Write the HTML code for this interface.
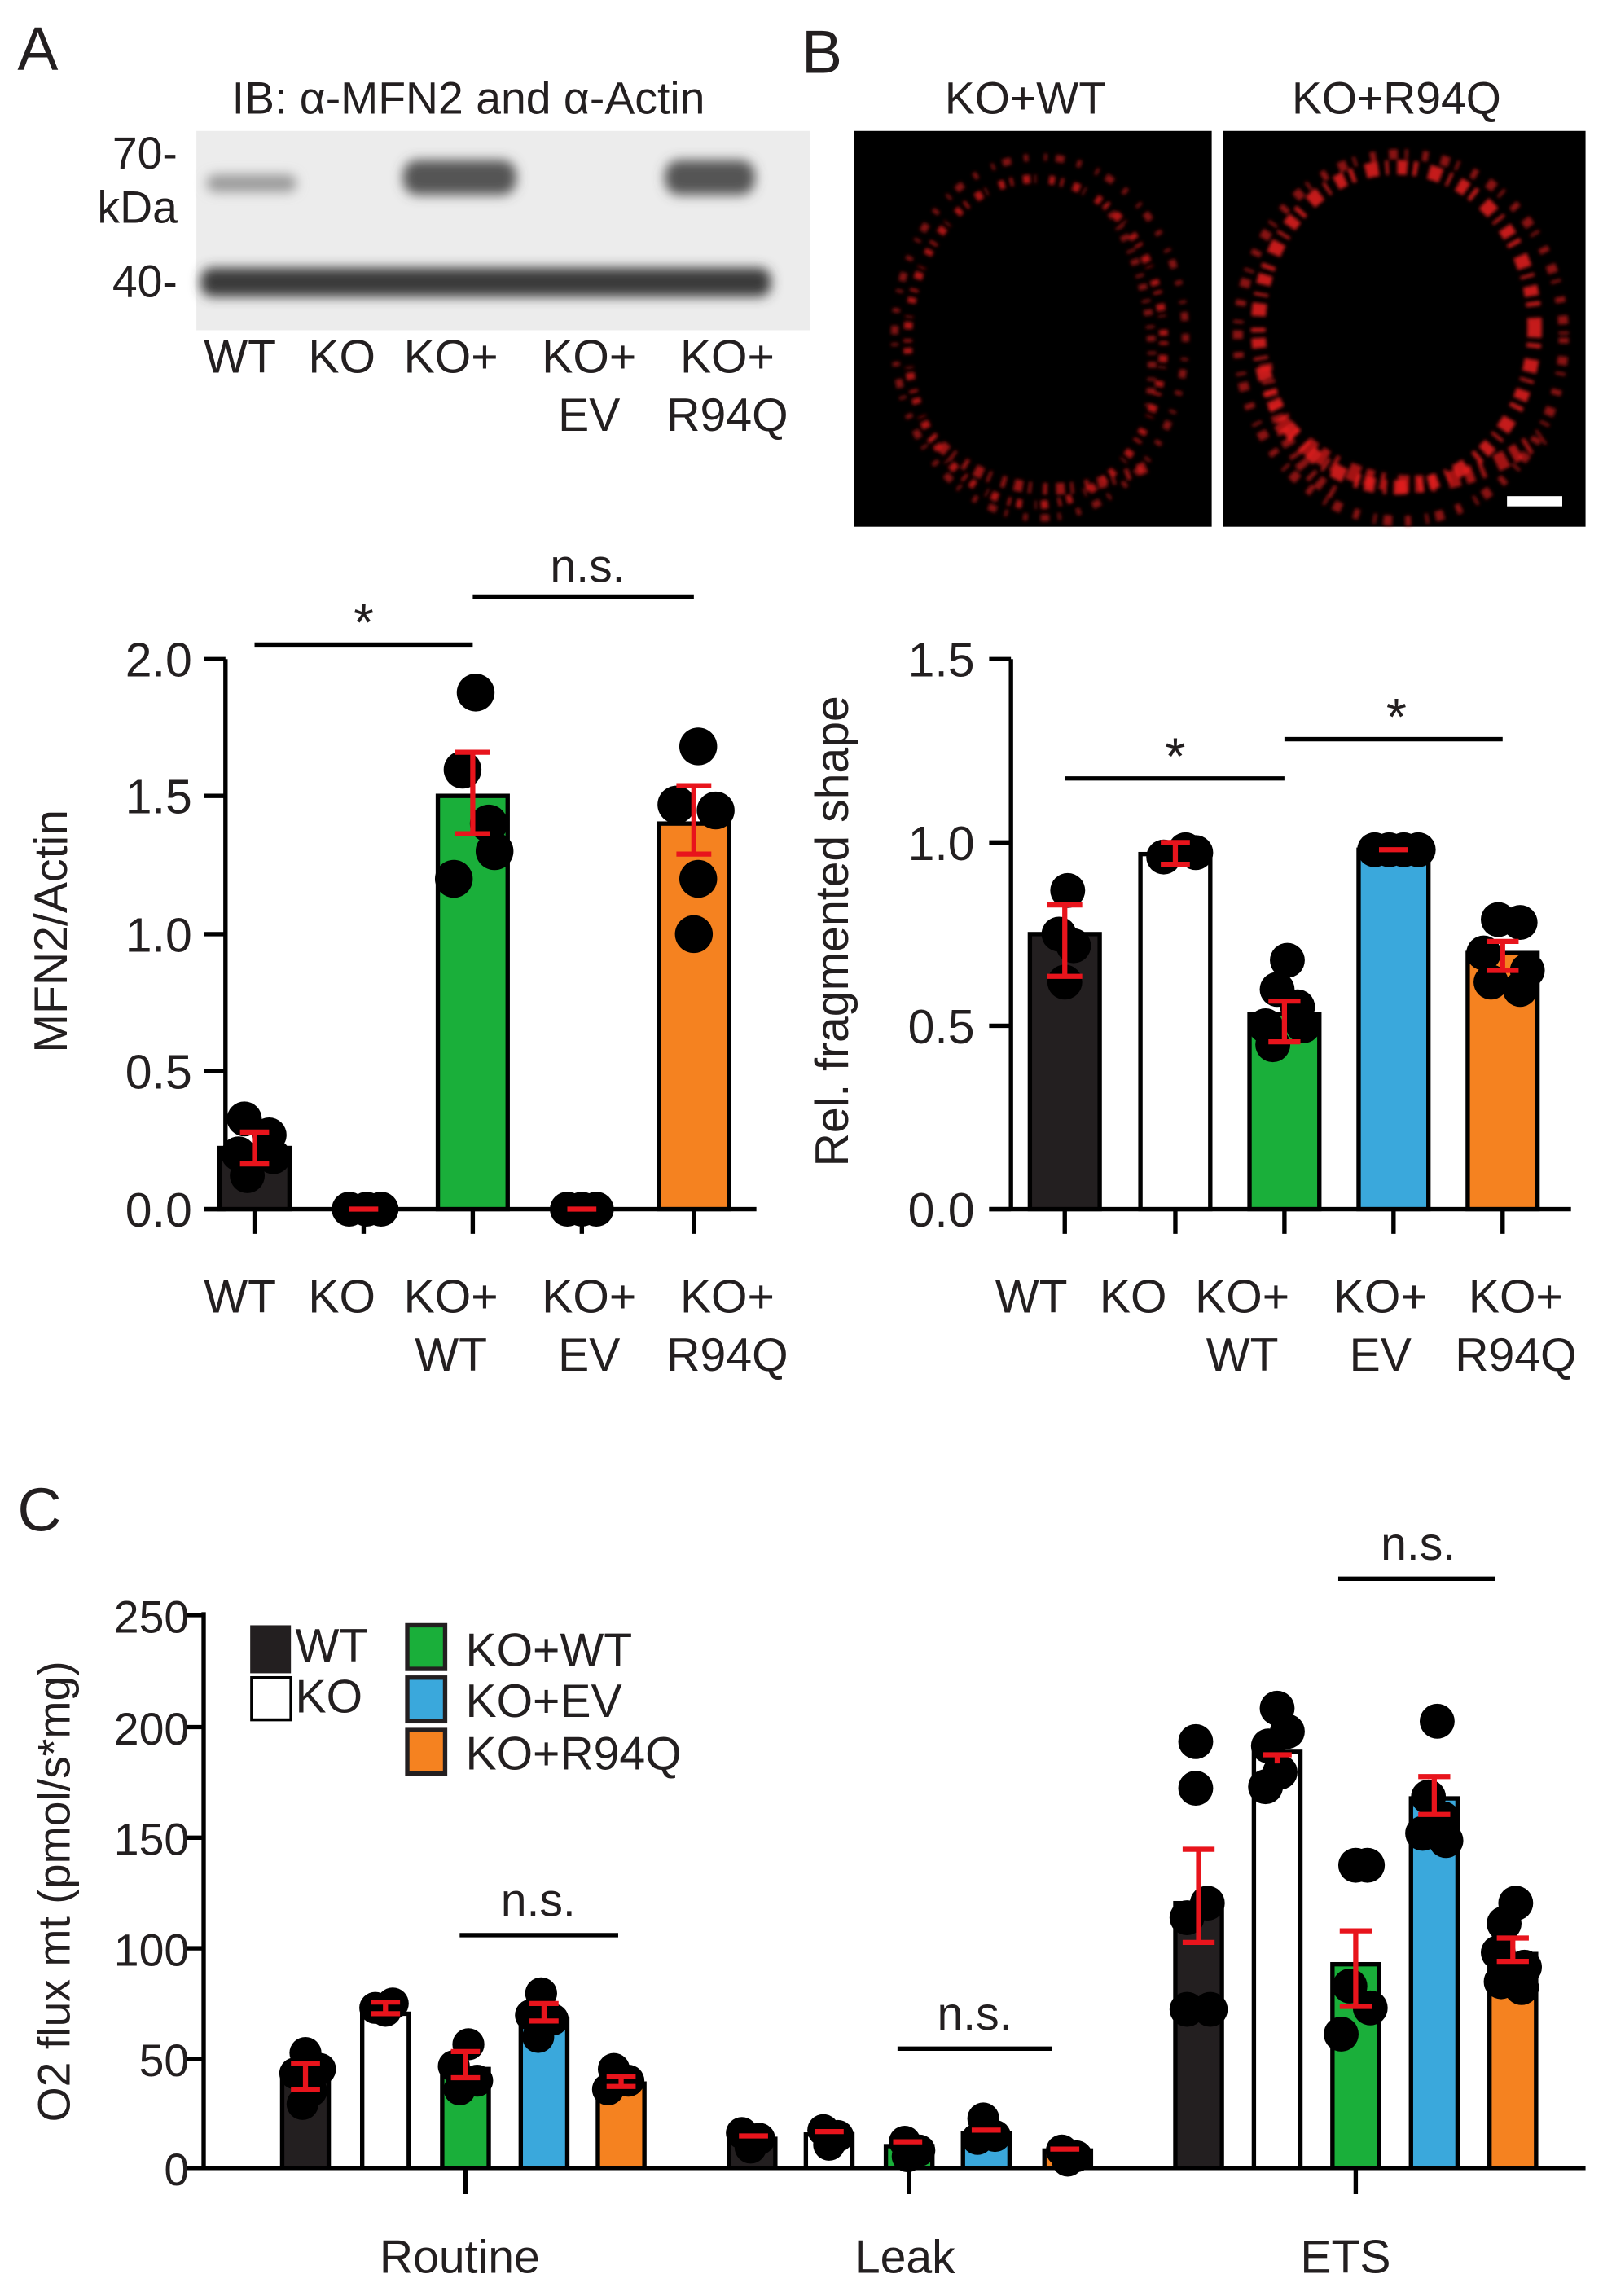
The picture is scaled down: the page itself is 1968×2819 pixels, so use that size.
<!DOCTYPE html>
<html><head><meta charset="utf-8"><style>
html,body{margin:0;padding:0;background:#fff}
svg{display:block}
text{font-family:"Liberation Sans",Arial,sans-serif;fill:#231f20}
</style></head><body>
<svg width="1968" height="2819" viewBox="0 0 1102 1578" preserveAspectRatio="none" xmlns="http://www.w3.org/2000/svg">
<defs>
<filter id="bl"><feGaussianBlur stdDeviation="4"/></filter>
<filter id="bl2"><feGaussianBlur stdDeviation="1.2"/></filter>
</defs>
<text x="12" y="48" font-size="42">A</text>
<text x="551" y="50" font-size="42">B</text>
<text x="12" y="1052" font-size="42">C</text>

<text x="322" y="78" font-size="31" text-anchor="middle">IB: α-MFN2 and α-Actin</text>
<rect x="135" y="90" width="422" height="137" fill="#ececec"/>
<g filter="url(#bl)">
<rect x="142" y="120" width="62" height="12" rx="6" fill="#9a9a9a"/>
<rect x="277" y="110" width="78" height="24" rx="10" fill="#555"/>
<rect x="457" y="110" width="62" height="24" rx="10" fill="#555"/>
<rect x="138" y="184" width="392" height="20" rx="8" fill="#3a3a3a"/>
</g>
<text x="122" y="116" font-size="31" text-anchor="end">70-</text>
<text x="122" y="153" font-size="31" text-anchor="end">kDa</text>
<text x="122" y="204" font-size="31" text-anchor="end">40-</text>
<g font-size="32" text-anchor="middle">
<text x="165" y="256">WT</text><text x="235" y="256">KO</text><text x="310" y="256">KO+</text><text x="405" y="256">KO+</text><text x="500" y="256">KO+</text>
<text x="405" y="296">EV</text><text x="500" y="296">R94Q</text>
</g>

<text x="705" y="78" font-size="31" text-anchor="middle">KO+WT</text>
<text x="960" y="78" font-size="31" text-anchor="middle">KO+R94Q</text>
<rect x="587" y="90" width="246" height="272" fill="#000"/>
<rect x="841" y="90" width="249" height="272" fill="#000"/>
<g fill="none" stroke="#d81c1c" filter="url(#bl2)">
<ellipse cx="712" cy="235" rx="88" ry="112" stroke-width="6" stroke-dasharray="2 7 5 3 1 9 4 4" opacity="0.8"/>
<ellipse cx="715" cy="232" rx="100" ry="124" stroke-width="5" stroke-dasharray="3 11 2 6 6 9" opacity="0.6"/>
<path d="M640 300 Q700 360 790 320" stroke-width="8" stroke-dasharray="3 6 6 4 2 8" opacity="0.7"/>
<path d="M760 140 Q800 200 790 280" stroke-width="6" stroke-dasharray="2 5 4 7" opacity="0.6"/>
<ellipse cx="960" cy="225" rx="95" ry="110" stroke-width="10" stroke-dasharray="7 4 3 8 9 5 2 6" stroke="#e82020" opacity="0.85"/>
<ellipse cx="963" cy="232" rx="112" ry="126" stroke-width="7" stroke-dasharray="4 9 6 5 2 10" stroke="#e82020" opacity="0.6"/>
<path d="M880 290 Q960 370 1060 300" stroke-width="12" stroke-dasharray="6 5 3 9 8 4" stroke="#e82020" opacity="0.7"/>
<path d="M870 250 Q880 320 920 340" stroke-width="9" stroke-dasharray="5 6 3 4" stroke="#e82020" opacity="0.6"/>
</g>
<rect x="1036" y="341" width="38" height="7" fill="#fff"/>

<!-- Chart A -->
<g stroke="#000" stroke-width="3" fill="none">
<path d="M155 453V831M140 831H520"/>
<path d="M140 453H155M140 547H155M140 642H155M140 736H155M140 831H155"/>
<path d="M175 831V848M250 831V848M325 831V848M400 831V848M477 831V848"/>
<path d="M175 443H325M325 410H477"/>
</g>
<g font-size="33" text-anchor="end">
<text x="132" y="465">2.0</text><text x="132" y="559">1.5</text><text x="132" y="654">1.0</text><text x="132" y="748">0.5</text><text x="132" y="843">0.0</text>
</g>
<text transform="translate(46,640) rotate(-90)" font-size="32" text-anchor="middle">MFN2/Actin</text>
<text x="250" y="440" font-size="36" text-anchor="middle">*</text>
<text x="404" y="400" font-size="32" text-anchor="middle">n.s.</text>
<g stroke="#000" stroke-width="3">
<rect x="151" y="789" width="48" height="42" fill="#231f20"/>
<rect x="301" y="547" width="48" height="284" fill="#1aaf3a"/>
<rect x="453" y="566" width="48" height="265" fill="#f58220"/>
</g>
<g fill="#000">
<circle cx="168" cy="769" r="12"/><circle cx="185" cy="780" r="12"/><circle cx="164" cy="793" r="12"/><circle cx="170" cy="808" r="12"/><circle cx="188" cy="795" r="12"/>
<circle cx="240" cy="831" r="12"/><circle cx="252" cy="831" r="12"/><circle cx="262" cy="831" r="12"/>
<circle cx="327" cy="476" r="13"/><circle cx="318" cy="529" r="13"/><circle cx="336" cy="566" r="13"/><circle cx="340" cy="585" r="13"/><circle cx="312" cy="604" r="13"/>
<circle cx="390" cy="831" r="12"/><circle cx="400" cy="831" r="12"/><circle cx="410" cy="831" r="12"/>
<circle cx="480" cy="513" r="13"/><circle cx="465" cy="553" r="13"/><circle cx="492" cy="557" r="13"/><circle cx="480" cy="604" r="13"/><circle cx="477" cy="642" r="13"/>
</g>
<g stroke="#e8141c" stroke-width="3.5" fill="none">
<path d="M175 778V800M165 778H185M165 800H185"/>
<path d="M240 831H260"/><path d="M390 831H410"/>
<path d="M325 517V573M313 517H337M313 573H337"/>
<path d="M477 540V587M465 540H489M465 587H489"/>
</g>

<!-- Chart B -->
<g stroke="#000" stroke-width="3" fill="none">
<path d="M695 453V831M680 831H1080"/>
<path d="M680 453H695M680 579H695M680 705H695M680 831H695"/>
<path d="M732 831V848M808 831V848M883 831V848M958 831V848M1033 831V848"/>
<path d="M732 535H883M883 508H1033"/>
</g>
<g font-size="33" text-anchor="end">
<text x="670" y="465">1.5</text><text x="670" y="591">1.0</text><text x="670" y="717">0.5</text><text x="670" y="843">0.0</text>
</g>
<text transform="translate(583,640) rotate(-90)" font-size="32" text-anchor="middle">Rel. fragmented shape</text>
<text x="808" y="532" font-size="36" text-anchor="middle">*</text>
<text x="960" y="505" font-size="36" text-anchor="middle">*</text>
<g stroke="#000" stroke-width="3">
<rect x="708" y="642" width="48" height="189" fill="#231f20"/>
<rect x="784" y="587" width="48" height="244" fill="#fff"/>
<rect x="859" y="697" width="48" height="134" fill="#1aaf3a"/>
<rect x="934" y="584" width="48" height="247" fill="#3aa8dc"/>
<rect x="1009" y="655" width="48" height="176" fill="#f58220"/>
</g>
<g fill="#000">
<circle cx="734" cy="612" r="12"/><circle cx="728" cy="642" r="12"/><circle cx="738" cy="650" r="12"/><circle cx="732" cy="675" r="12"/>
<circle cx="815" cy="584" r="12"/><circle cx="800" cy="589" r="12"/><circle cx="822" cy="586" r="12"/>
<circle cx="885" cy="660" r="12"/><circle cx="878" cy="680" r="12"/><circle cx="892" cy="692" r="12"/><circle cx="870" cy="705" r="12"/><circle cx="896" cy="705" r="12"/><circle cx="875" cy="718" r="12"/>
<circle cx="945" cy="584" r="12"/><circle cx="955" cy="584" r="12"/><circle cx="965" cy="584" r="12"/><circle cx="975" cy="584" r="12"/>
<circle cx="1030" cy="632" r="12"/><circle cx="1045" cy="634" r="12"/><circle cx="1020" cy="655" r="12"/><circle cx="1050" cy="667" r="12"/><circle cx="1025" cy="675" r="12"/><circle cx="1045" cy="680" r="12"/>
</g>
<g stroke="#e8141c" stroke-width="3.5" fill="none">
<path d="M732 622V671M720 622H744M720 671H744"/>
<path d="M808 579V594M798 579H818M798 594H818"/>
<path d="M883 688V716M872 688H894M872 716H894"/>
<path d="M948 584H968"/>
<path d="M1033 647V667M1022 647H1044M1022 667H1044"/>
</g>
<g font-size="32" text-anchor="middle">
<text x="709" y="902">WT</text><text x="779" y="902">KO</text><text x="854" y="902">KO+</text><text x="949" y="902">KO+</text><text x="1042" y="902">KO+</text>
<text x="854" y="942">WT</text><text x="949" y="942">EV</text><text x="1042" y="942">R94Q</text>
</g>
<g font-size="32" text-anchor="middle">
<text x="165" y="902">WT</text><text x="235" y="902">KO</text><text x="310" y="902">KO+</text><text x="405" y="902">KO+</text><text x="500" y="902">KO+</text>
<text x="310" y="942">WT</text><text x="405" y="942">EV</text><text x="500" y="942">R94Q</text>
</g>

<!-- Chart C -->
<g stroke="#000" stroke-width="3" fill="none">
<path d="M140 1108V1490M128 1490H1090"/>
<path d="M128 1110H140M128 1187H140M128 1263H140M128 1339H140M128 1415H140"/>
<path d="M320 1490V1508M625 1490V1508M932 1490V1508"/>
<path d="M316 1330H425M617 1408H723M920 1085H1028"/>
</g>
<g font-size="31" text-anchor="end">
<text x="130" y="1122">250</text><text x="130" y="1199">200</text><text x="130" y="1275">150</text><text x="130" y="1351">100</text><text x="130" y="1427">50</text><text x="130" y="1502">0</text>
</g>
<text transform="translate(48,1300) rotate(-90)" font-size="31" text-anchor="middle">O2 flux mt (pmol/s*mg)</text>
<g font-size="32" text-anchor="middle">
<text x="370" y="1317">n.s.</text><text x="670" y="1395">n.s.</text><text x="975" y="1072">n.s.</text>
<text x="316" y="1562">Routine</text><text x="622" y="1562">Leak</text><text x="925" y="1562">ETS</text>
</g>
<rect x="172" y="1117" width="28" height="33" fill="#231f20"/>
<rect x="173" y="1153" width="27" height="29" fill="#fff" stroke="#000" stroke-width="2"/>
<g stroke="#231f20" stroke-width="3">
<rect x="280" y="1117" width="26" height="30" fill="#1aaf3a"/>
<rect x="280" y="1153" width="26" height="30" fill="#3aa8dc"/>
<rect x="280" y="1189" width="26" height="30" fill="#f58220"/>
</g>
<g font-size="32">
<text x="203" y="1142">WT</text><text x="203" y="1177">KO</text>
<text x="320" y="1145">KO+WT</text><text x="320" y="1180">KO+EV</text><text x="320" y="1216">KO+R94Q</text>
</g>
<g stroke="#000" stroke-width="3">
<rect x="194" y="1429" width="32" height="61" fill="#231f20"/>
<rect x="249" y="1384" width="32" height="106" fill="#fff"/>
<rect x="304" y="1422" width="32" height="68" fill="#1aaf3a"/>
<rect x="358" y="1388" width="32" height="102" fill="#3aa8dc"/>
<rect x="411" y="1432" width="32" height="58" fill="#f58220"/>
<rect x="501" y="1470" width="32" height="20" fill="#231f20"/>
<rect x="554" y="1467" width="32" height="23" fill="#fff"/>
<rect x="609" y="1475" width="32" height="15" fill="#1aaf3a"/>
<rect x="662" y="1466" width="32" height="24" fill="#3aa8dc"/>
<rect x="718" y="1478" width="32" height="12" fill="#f58220"/>
<rect x="808" y="1308" width="32" height="182" fill="#231f20"/>
<rect x="862" y="1204" width="32" height="286" fill="#fff"/>
<rect x="916" y="1350" width="32" height="140" fill="#1aaf3a"/>
<rect x="970" y="1236" width="32" height="254" fill="#3aa8dc"/>
<rect x="1024" y="1343" width="32" height="147" fill="#f58220"/>
</g>
<g fill="#000">
<circle cx="210" cy="1411" r="11"/><circle cx="220" cy="1422" r="11"/><circle cx="203" cy="1425" r="11"/><circle cx="214" cy="1437" r="11"/><circle cx="208" cy="1446" r="11"/>
<circle cx="258" cy="1380" r="11"/><circle cx="270" cy="1377" r="11"/><circle cx="265" cy="1382" r="11"/>
<circle cx="322" cy="1405" r="11"/><circle cx="312" cy="1420" r="11"/><circle cx="328" cy="1430" r="11"/><circle cx="316" cy="1436" r="11"/>
<circle cx="372" cy="1370" r="11"/><circle cx="365" cy="1385" r="11"/><circle cx="380" cy="1388" r="11"/><circle cx="370" cy="1400" r="11"/>
<circle cx="422" cy="1422" r="11"/><circle cx="432" cy="1430" r="11"/><circle cx="418" cy="1436" r="11"/>
<circle cx="510" cy="1466" r="11"/><circle cx="522" cy="1470" r="11"/><circle cx="516" cy="1476" r="11"/>
<circle cx="566" cy="1464" r="11"/><circle cx="576" cy="1468" r="11"/><circle cx="570" cy="1474" r="11"/>
<circle cx="622" cy="1472" r="11"/><circle cx="632" cy="1478" r="11"/><circle cx="624" cy="1482" r="11"/>
<circle cx="676" cy="1456" r="11"/><circle cx="672" cy="1470" r="11"/><circle cx="684" cy="1468" r="11"/>
<circle cx="730" cy="1478" r="11"/><circle cx="740" cy="1482" r="11"/><circle cx="734" cy="1485" r="11"/>
<circle cx="822" cy="1197" r="12"/><circle cx="822" cy="1229" r="12"/><circle cx="816" cy="1318" r="12"/><circle cx="830" cy="1308" r="12"/><circle cx="816" cy="1381" r="12"/><circle cx="832" cy="1381" r="12"/>
<circle cx="878" cy="1174" r="12"/><circle cx="885" cy="1190" r="12"/><circle cx="872" cy="1200" r="12"/><circle cx="880" cy="1218" r="12"/><circle cx="870" cy="1228" r="12"/>
<circle cx="932" cy="1282" r="12"/><circle cx="940" cy="1282" r="12"/><circle cx="928" cy="1365" r="12"/><circle cx="942" cy="1380" r="12"/><circle cx="922" cy="1398" r="12"/>
<circle cx="988" cy="1183" r="12"/><circle cx="982" cy="1235" r="12"/><circle cx="992" cy="1250" r="12"/><circle cx="978" cy="1260" r="12"/><circle cx="994" cy="1265" r="12"/>
<circle cx="1042" cy="1308" r="12"/><circle cx="1034" cy="1322" r="12"/><circle cx="1030" cy="1342" r="12"/><circle cx="1048" cy="1352" r="12"/><circle cx="1032" cy="1362" r="12"/><circle cx="1046" cy="1366" r="12"/>
</g>
<g stroke="#e8141c" stroke-width="3.5" fill="none">
<path d="M210 1418V1436M200 1418H220M200 1436H220"/>
<path d="M265 1376V1384M255 1376H275M255 1384H275"/>
<path d="M320 1410V1428M310 1410H330M310 1428H330"/>
<path d="M374 1377V1389M364 1377H384M364 1389H384"/>
<path d="M427 1427V1434M417 1427H437M417 1434H437"/>
<path d="M508 1468H528M560 1465H580M614 1472H634M668 1464H688M722 1477H742"/>
<path d="M824 1271V1335M813 1271H835M813 1335H835"/>
<path d="M878 1206V1212M868 1206H888"/>
<path d="M932 1327V1379M921 1327H943M921 1379H943"/>
<path d="M986 1221V1247M975 1221H997M975 1247H997"/>
<path d="M1040 1332V1348M1029 1332H1051M1029 1348H1051"/>
</g>
</svg>
</body></html>
